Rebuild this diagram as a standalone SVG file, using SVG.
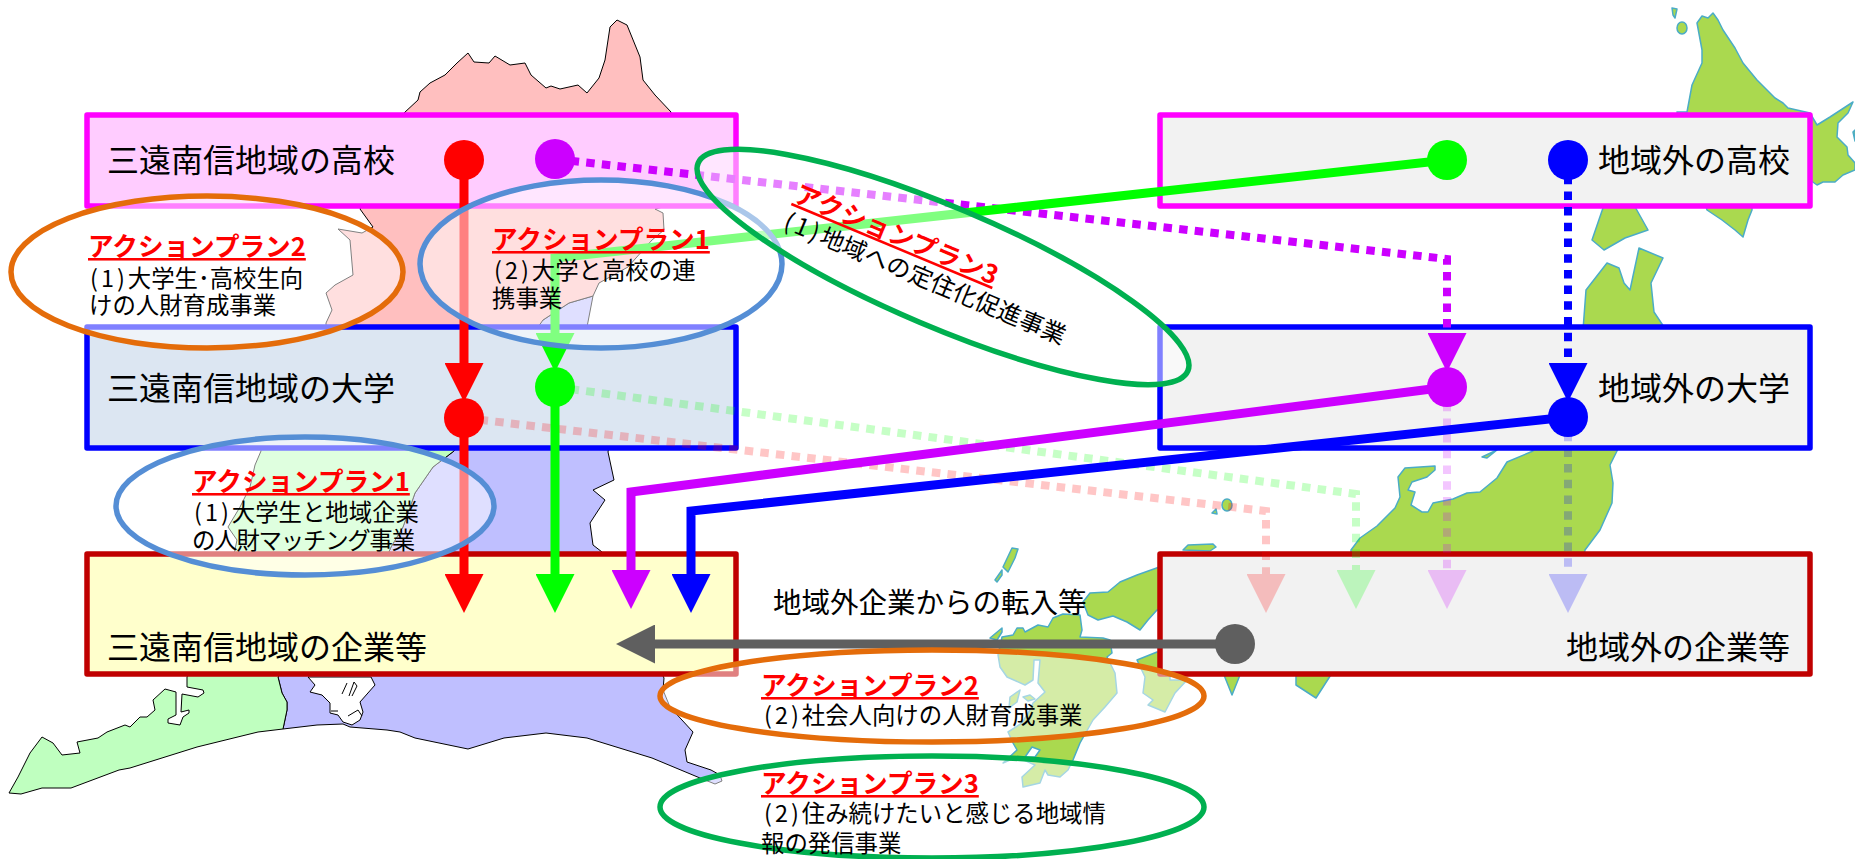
<svg xmlns="http://www.w3.org/2000/svg" width="1855" height="859" viewBox="0 0 1855 859">
<style>
text{font-family:"Noto Sans CJK JP","Noto Sans",sans-serif;fill:#000}
.n{font-size:32px}
.t{font-size:25.6px;font-weight:700;fill:#f00;text-decoration:underline;text-decoration-color:#f00}
.b{font-size:23.4px}
.p{letter-spacing:3px}
.box{stroke-width:5.5px;stroke-linejoin:round}
.m{stroke:#000;stroke-width:1;stroke-linejoin:round}
.j{fill:#aad94f;stroke:#4bacc6;stroke-width:1.5;stroke-linejoin:round}
.c{fill:none;stroke-width:9;stroke-linejoin:miter}
.d{fill:none;stroke-width:8;stroke-dasharray:8.5 7.2}
.e{fill:#fff;fill-opacity:.5;stroke-width:5.5}
</style>
<defs>
<marker id="aR" markerUnits="userSpaceOnUse" markerWidth="39" markerHeight="39" refX="0" refY="19.5" orient="auto"><path d="M0 0L39 19.5L0 39Z" fill="#f00"/></marker>
<marker id="aG" markerUnits="userSpaceOnUse" markerWidth="39" markerHeight="39" refX="0" refY="19.5" orient="auto"><path d="M0 0L39 19.5L0 39Z" fill="#0f0"/></marker>
<marker id="aP" markerUnits="userSpaceOnUse" markerWidth="39" markerHeight="39" refX="0" refY="19.5" orient="auto"><path d="M0 0L39 19.5L0 39Z" fill="#c0f"/></marker>
<marker id="aB" markerUnits="userSpaceOnUse" markerWidth="39" markerHeight="39" refX="0" refY="19.5" orient="auto"><path d="M0 0L39 19.5L0 39Z" fill="#00f"/></marker>
<marker id="aK" markerUnits="userSpaceOnUse" markerWidth="39" markerHeight="39" refX="0" refY="19.5" orient="auto"><path d="M0 0L39 19.5L0 39Z" fill="#5f5f5f"/></marker>
</defs>
<rect width="1855" height="859" fill="#fff"/>
<g id="map-region">
<path class="m" fill="#bfbfff" d="M543 320L569 303L593 296L587 327L610 440L608 452L614 480L593 490L605 500L590 523L593 545L602 552L664 678L663 690L670 707L693 732L685 750L687 762L711 770L720 775L722 781L715 784L700 778L652 758L587 738L546 733L504 738L468 749L415 738L400 732L387 730L350 727L343 724L317 725L283 729L287 710L287 702L282 693L278 677L388 554L391 547L403 527L415 493L433 467L454 451L460 330Z"/>
<path class="m" fill="#fff" d="M308 677L315 685L310 692L322 695L330 703L330 713L338 715L343 722L352 725L360 720L363 712L360 702L375 685L371 677Z"/>
<path class="m" fill="none" d="M342 694L347 683M349 696L354 682L357 686L352 696M331 711L338 711M348 716L358 710L362 716"/>
<path class="m" fill="#bfffbf" d="M261 440L261 451L255 465L250 487L240 507L228 527L237 540L234 554L187 677L187 687L203 690L204 693L198 697L182 694L181 712L189 710L189 713L183 717L180 725L168 723L168 719L176 715L176 692L165 689L153 700L155 710L147 717L140 717L130 727L125 725L107 732L98 738L77 742L80 753L62 755L53 743L42 737L30 753L18 777L9 793L21 794L42 788L71 788L119 770L130 768L197 747L258 732L283 729L287 710L287 702L282 693L278 677L388 554L391 547L403 527L415 493L433 467L454 451L460 440Z"/>
<path class="m" fill="#ffbfbf" d="M404 113L418 100L420 92L430 83L445 75L457 63L468 53L474 62L489 63L495 56L510 65L525 63L531 75L546 88L551 86L560 89L578 85L587 93L599 78L605 60L610 27L617 20L627 25L640 57L643 80L655 95L671 112L671 205L655 209L663 213L664 230L652 240L628 267L599 283L593 296L569 303L543 320L536 330L326 330L326 323L332 310L326 293L335 285L353 275L350 240L338 229L362 233L373 227L360 209Z"/>
</g>
<g id="map-japan">
<path class="j" d="M1672 8L1677 9L1675 18L1673 15Z"/>
<ellipse class="j" cx="1682" cy="28" rx="5" ry="6"/>
<path class="j" d="M1697 23L1702 16L1708 18L1713 13L1718 20L1723 30L1735 48L1743 63L1757 80L1775 98L1783 103L1788 108L1810 113L1817 125L1830 117L1853 102L1848 113L1838 123L1837 137L1847 147L1848 155L1855 163L1855 170L1843 175L1835 182L1823 182L1817 185L1810 180L1752 207L1752 210L1748 220L1743 237L1735 230L1722 220L1707 210L1677 112L1687 112L1692 85L1702 63L1702 50Z"/>
<path class="j" d="M1853 132L1855 130L1855 141Z"/>
<path class="j" d="M1604 205L1634 205L1648 230L1625 238L1604 250L1592 240Z"/>
<path class="j" d="M1583 330L1586 290L1607 263L1619 268L1624 283L1630 290L1639 248L1663 258L1651 283L1654 312L1666 330L1617 451L1610 465L1613 483L1612 503L1600 530L1585 550L1583 560L1351 560L1351 550L1360 538L1377 526L1395 508L1400 497L1398 477L1405 468L1420 467L1435 466L1435 470L1427 477L1412 482L1408 490L1415 492L1411 505L1422 512L1428 512L1433 503L1453 499L1467 493L1480 492L1497 478L1507 462L1533 451L1524 445Z"/>
<path class="j" d="M1482 457L1497 450L1487 458Z"/>
<ellipse class="j" cx="1227" cy="505" rx="5" ry="6"/>
<path class="j" d="M1212 513L1216 509L1217 514Z"/>
<path class="j" d="M1183 550L1188 545L1213 544L1216 547L1210 551Z"/>
<path class="j" d="M1018 549L1012 548L1003 567L1008 572L1015 558Z"/>
<path class="j" d="M1002 570L995 580L997 582L1002 575Z"/>
<path class="j" d="M1165 565L1137 575L1120 582L1108 592L1090 593L1083 602L1088 615L1098 620L1113 616L1127 622L1140 630L1148 620L1157 610L1170 610Z"/>
<path class="j" d="M1002 628L990 638L997 640L1002 632Z"/>
<path class="j" d="M1002 637L1013 635L1017 628L1023 628L1025 632L1038 625L1048 627L1053 618L1063 614L1080 615L1082 630L1080 637L1103 638L1110 640L1112 653L1107 657L1115 673L1117 693L1105 707L1093 720L1080 743L1073 760L1068 770L1060 777L1048 775L1045 770L1040 783L1023 787L1022 777L1035 765L1017 757L1003 763L1017 750L1013 743L1008 732L1022 723L1030 710L1033 703L1045 692L1038 683L1040 660L1034 660L1033 680L1025 685L1007 677L1000 667L998 655Z"/>
<path class="j" d="M1025 757L1032 747L1040 750L1035 757Z" style="fill:#fff"/>
<path class="j" d="M1010 697L1020 690L1017 702L1009 708Z"/>
<path class="j" d="M1023 697L1030 695L1035 699L1028 701Z"/>
<path class="j" d="M1137 660L1157 652L1170 652L1170 680L1187 680L1175 693L1165 712L1148 705L1153 700L1143 693L1145 677Z"/>
<path class="j" d="M1222 670L1232 695L1242 670Z"/>
<path class="j" d="M1296 670L1296 685L1316 698L1334 670Z"/>
</g>
<g id="node-local-school"><rect class="box" x="87" y="115" width="649" height="91" fill="#fcf" stroke="#f0f"/><text class="n" x="107" y="172">三遠南信地域の高校</text></g>
<g id="node-local-university"><rect class="box" x="87" y="327" width="649" height="121" fill="#dce6f2" stroke="#00f"/><text class="n" x="107" y="400">三遠南信地域の大学</text></g>
<g id="node-local-company"><rect class="box" x="87" y="554" width="649" height="120" fill="#ffc" stroke="#c00000"/><text class="n" x="107" y="659">三遠南信地域の企業等</text></g>
<g id="node-outer-school"><rect class="box" x="1160" y="115" width="650" height="91" fill="#f2f2f2" stroke="#f0f"/><text class="n" x="1790" y="172" text-anchor="end">地域外の高校</text></g>
<g id="node-outer-university"><rect class="box" x="1160" y="327" width="650" height="121" fill="#f2f2f2" stroke="#00f"/><text class="n" x="1790" y="400" text-anchor="end">地域外の大学</text></g>
<g id="node-outer-company"><rect class="box" x="1160" y="554" width="650" height="120" fill="#f2f2f2" stroke="#c00000"/><text class="n" x="1790" y="659" text-anchor="end">地域外の企業等</text></g>
<g id="connectors">
<g opacity=".22">
<path class="d" stroke="#f00" d="M464 418L1266 511L1266 574" marker-end="url(#aR)"/>
<path class="d" stroke="#0f0" d="M555 387L1356 494L1356 570" marker-end="url(#aG)"/>
<path class="d" stroke="#c0f" d="M1447 387L1447 570" marker-end="url(#aP)"/>
<path class="d" stroke="#00f" d="M1568 417L1568 574" marker-end="url(#aB)"/>
</g>
<path class="d" stroke="#c0f" d="M555 159L1447 259L1447 333" marker-end="url(#aP)"/>
<path class="d" stroke="#00f" d="M1568 160L1568 363" marker-end="url(#aB)"/>
<path class="c" stroke="#f00" d="M464 160L464 363" marker-end="url(#aR)"/>
<path class="c" stroke="#0f0" d="M1447 160L555 258L555 333" marker-end="url(#aG)"/>
<path class="c" stroke="#f00" d="M464 418L464 574" marker-end="url(#aR)"/>
<path class="c" stroke="#0f0" d="M555 387L555 574" marker-end="url(#aG)"/>
<path class="c" stroke="#c0f" d="M1447 387L631 492L631 570" marker-end="url(#aP)"/>
<path class="c" stroke="#00f" d="M1568 417L691 511L691 574" marker-end="url(#aB)"/>
<path class="c" stroke="#5f5f5f" d="M1235 644L655 644" marker-end="url(#aK)"/>
<circle cx="464" cy="160" r="20" fill="#f00"/>
<circle cx="555" cy="159" r="20" fill="#c0f"/>
<circle cx="464" cy="418" r="20" fill="#f00"/>
<circle cx="555" cy="387" r="20" fill="#0f0"/>
<circle cx="1447" cy="160" r="20" fill="#0f0"/>
<circle cx="1568" cy="160" r="20" fill="#00f"/>
<circle cx="1447" cy="387" r="20" fill="#c0f"/>
<circle cx="1568" cy="417" r="20" fill="#00f"/>
<circle cx="1235" cy="644" r="20" fill="#5f5f5f"/>
</g>
<text x="773" y="613" style="font-size:28.5px">地域外企業からの転入等</text>
<g id="plan-2-1"><ellipse class="e" cx="207" cy="272" rx="196" ry="76" stroke="#e46c0a"/><text class="t" x="88" y="256">アクションプラン2</text><text class="b" x="90" y="287"><tspan class="p">(1)</tspan>大学生･高校生向</text><text class="b" x="89" y="314">けの人財育成事業</text></g>
<g id="plan-1-2"><ellipse class="e" cx="601" cy="264" rx="181" ry="84" stroke="#558ed5"/><text class="t" x="492" y="249">アクションプラン1</text><text class="b" x="494" y="279"><tspan class="p">(2)</tspan>大学と高校の連</text><text class="b" x="492" y="307">携事業</text></g>
<g id="plan-3-1"><ellipse class="e" cx="943" cy="267" rx="266" ry="60" transform="rotate(23 943 267)" stroke="#00b050"/><g transform="translate(793 200) rotate(22.7)"><text class="t" x="0" y="1">アクションプラン3</text><text class="b" x="1" y="30" style="font-size:24px"><tspan class="p">(1)</tspan>地域への定住化促進事業</text></g></g>
<g id="plan-1-1"><ellipse class="e" cx="305" cy="506" rx="189" ry="69" stroke="#558ed5"/><text class="t" x="192" y="491">アクションプラン1</text><text class="b" x="194" y="521"><tspan class="p">(1)</tspan>大学生と地域企業</text><text class="b" x="192" y="549" letter-spacing="-1.2">の人財マッチング事業</text></g>
<g id="plan-2-2"><ellipse class="e" cx="932" cy="696" rx="272" ry="46" stroke="#e46c0a"/><text class="t" x="761" y="695">アクションプラン2</text><text class="b" x="764" y="724"><tspan class="p">(2)</tspan>社会人向けの人財育成事業</text></g>
<g id="plan-3-2"><ellipse class="e" cx="932" cy="807" rx="272" ry="51" stroke="#00b050"/><text class="t" x="761" y="793">アクションプラン3</text><text class="b" x="764" y="822"><tspan class="p">(2)</tspan>住み続けたいと感じる地域情</text><text class="b" x="761" y="852">報の発信事業</text></g>
</svg>
